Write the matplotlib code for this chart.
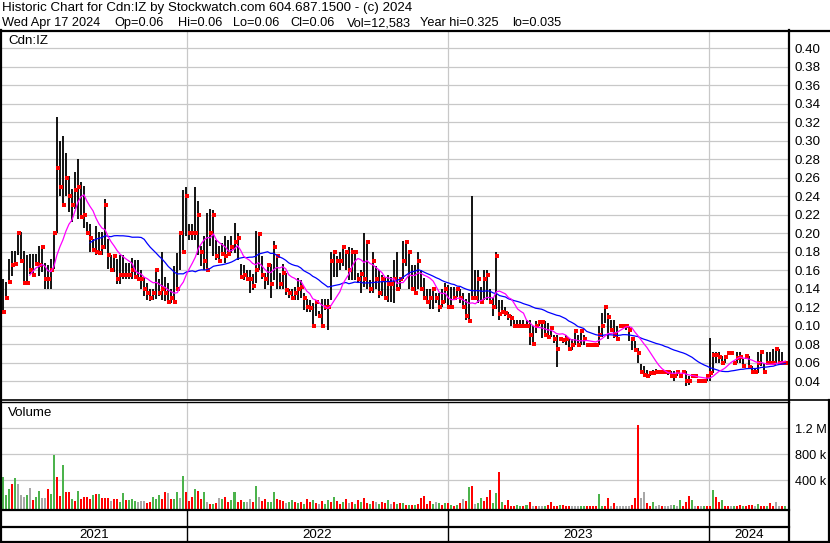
import numpy as np
import pandas as pd
import matplotlib
matplotlib.use('Agg')
import matplotlib.pyplot as plt

# ---------------- data (3-trading-day buckets, prices in cents) ----------------
hi_c = [15, 14.7, 17.2, 18.1, 18.1, 20.1, 20.1, 18.1, 17.6, 17.7, 17.7, 17.7, 18.6, 18.6, 16.8, 16.5, 17.2, 20.1, 32.5, 30,
        30.5, 28.7, 26.2, 24.8, 26.6, 28, 25.5, 25.1, 21.2, 21, 19.4, 20.8, 20.1, 20.1, 23.7, 19.4, 17.6, 17.6, 17.2, 17.6,
        17.6, 16.8, 16.8,
        17.3, 17.1, 17.1, 16, 15.3, 14.6, 14, 14, 16, 15, 18, 15.3, 14.6, 14, 16.4, 17.8, 20.2, 24.7, 25, 21,
        21, 25, 23.5, 18.6, 19.7, 22.2, 22.6, 22.5, 19.3, 18.6, 18.9, 19.7, 19.3, 19.7, 21.1, 20, 16.7, 16.5, 16, 16,
        15.6, 20.2, 20, 17.5,
        15.7, 16.7, 16.6, 19.1, 17.5, 15.7, 16.6, 15.7, 14, 13.9, 14.2, 15.1, 14.9, 13.5, 12.9, 12.8, 12.4, 12.6, 11.6, 12.9,
        12.9, 12.9, 18, 18, 17.5, 18, 18.5, 18, 18.5, 18.4, 18, 15.7, 16, 20, 19, 14.9, 18, 16.4, 16, 15.5,
        15.3, 15.5, 15.3,
        17.1, 18, 15.3, 19.1, 19.1, 18, 16.5, 16.5, 18, 16, 15.1, 13.9, 13.9, 13.9, 13.5, 13.5, 13.9, 14.6, 14.4, 14.2,
        14.2, 14.1, 13.9, 13.5, 12.9, 13.5, 24, 16, 16, 14.2, 16, 16, 13.9, 13, 18, 12.8, 12.8, 12, 11.5, 11.1,
        10.6, 10.6, 10.6,
        10.6, 10.6, 10.6, 9.9, 10.5, 10.5, 10.5, 10.5, 10.3, 9.9, 9, 9, 8.6, 8.6, 9, 8.5, 8.5, 9.5, 9, 9.5,
        9, 8.1, 8.1, 8.1, 8.1, 9.9, 11.4, 12.1, 11.4, 10.6, 10.6, 9.9, 10, 10, 10, 9.9, 8.7, 8.3, 7.6, 5.8,
        5.6, 5.2, 4.9, 5.2,
        5.3, 5.1, 5.1, 5.1, 5.1, 5.1, 5.1, 5.1, 4.7, 5.1, 5.1, 4.5, 4.7, 4.7, 4.2, 4.2, 4.2, 4.5, 8.6, 7.1,
        7.1, 7.1, 6.7, 6.7, 7.2, 7.2, 6.2, 7.1, 7.1, 6.4, 6.7, 6.7, 5.6, 5.3, 7.1, 7.1, 6, 7.1, 7.1, 7.5,
        7.5, 7.5, 7.1, 6.2]

lo_c = [11.4, 13, 14.7, 15.4, 16.5, 17.6, 16.8, 14.5, 14.5, 15.6, 15.5, 16.5, 15.4, 15.8, 14, 14, 14, 16.1, 20, 24,
        23, 24, 22.3, 21.2, 22.6, 21.5, 21.7, 20.5, 20, 18, 18, 17.6, 17.6, 17.6, 18.3, 16.1, 15.8, 15.8, 14.5, 14.5,
        15, 15, 15,
        15, 15, 15, 13.9, 13.2, 12.8, 12.6, 12.8, 12.9, 13.2, 12.8, 12.6, 12.5, 12.4, 12.4, 13.8, 16, 17.8, 19.7, 19.3,
        19.3, 19.3, 17.6, 16.4, 16, 16, 18.6, 17.5, 17.1, 16.9, 17.5, 16.8, 17.5, 17.8, 17.8, 17.1, 15.1, 14.9, 14.9, 13.5,
        13.8, 14.6, 16, 15,
        13.9, 14.4, 13, 14.9, 13.9, 13.9, 13.9, 13.3, 13, 13, 12.8, 12.8, 13, 11.7, 11.5, 11.5, 9.9, 11, 11, 9.9,
        11.7, 9.5, 12.8, 15.3, 15.3, 16, 16.4, 16, 14.9, 14.9, 14.9, 14.6, 13.5, 14.2, 13.9, 13.5, 13.5, 13.9, 13, 13.2,
        13, 12.5, 12.5,
        12.4, 13.9, 13.9, 15, 16.4, 13.9, 13.9, 13.5, 13.9, 13.9, 12.8, 12.4, 11.8, 11.8, 12.4, 11.5, 12, 12.4, 11.8, 11.8,
        12.8, 13.1, 12.4, 11.8, 10.6, 10.4, 12.8, 12.9, 12.4, 12.4, 12.8, 12.8, 12.4, 11, 11.8, 10.6, 11.3, 11, 10.6, 9.9,
        9.9, 9.9, 9.9,
        9.7, 9.7, 7.9, 7.9, 9.2, 9.9, 8.7, 8.8, 8.8, 8.8, 8.1, 5.5, 8.3, 8.1, 7.9, 7.4, 7.4, 7.9, 7.9, 7.9,
        7.9, 7.9, 7.9, 7.9, 7.9, 7.9, 8.8, 10.3, 8.5, 9.4, 8.7, 8.5, 9.7, 9.7, 9.5, 8.3, 7.4, 7.4, 6, 5,
        4.5, 4.5, 4.5, 4.8,
        4.9, 4.9, 4.9, 4.9, 4.7, 4.5, 4, 4.5, 4.5, 4.9, 3.5, 3.6, 4.4, 4.4, 3.9, 3.9, 3.9, 4, 4, 4.9,
        6, 6, 6, 6, 6.9, 6.9, 5.9, 6, 6, 5.5, 6.4, 5.3, 4.9, 4.9, 4.9, 5.6, 4.9, 6, 6, 6,
        6, 6, 6, 5.9]

cl_c = [11.5, 13, 14.7, 16.5, 16.6, 20, 17, 14.6, 14.6, 16, 15.5, 16.6, 16.5, 18.5, 15, 15, 16, 20, 27, 25,
        23, 26, 24, 23, 24.6, 25, 21.7, 22, 20, 19.5, 18.2, 18, 17.8, 18.5, 23, 17.6, 16, 17.5, 15, 15.5,
        15.5, 15.5, 15.5,
        16, 15.2, 15, 15, 14, 13.5, 13, 13.5, 16, 13.5, 14, 13.5, 12.5, 13, 12.5, 14, 20, 18, 24, 20,
        20, 20, 22, 18, 17, 16, 20, 22, 17.5, 17, 17.7, 17.5, 17.7, 18.5, 19, 19.5, 15.2, 15.5, 15, 15,
        14.3, 16, 19.9, 15.5,
        15, 16.5, 14.5, 18.5, 17.5, 14.5, 15.7, 13.8, 13.5, 13, 13.5, 14, 14.2, 13, 12, 11.9, 10, 12.5, 11, 10,
        12, 12, 17, 18, 17, 17, 18.5, 18, 16, 18, 18, 15, 15.6, 15, 19, 14, 17, 15, 13.5, 15,
        13, 14.5, 14.5,
        15, 13.9, 15, 17, 19, 18, 14, 13.5, 17, 14, 13, 12.5, 13, 14, 13, 12, 12.5, 14, 12, 12,
        13, 14, 13, 12, 11, 10.5, 13, 13, 15, 12.5, 15, 15.5, 12.5, 12, 17.5, 11.3, 11.5, 11.4, 11, 10.8,
        10, 10, 10,
        9.9, 9.9, 9, 8, 9.9, 10.4, 10.4, 9, 8.8, 9.7, 8.5, 7.5, 8.5, 8.4, 8.5, 7.5, 7.9, 9.4, 7.9, 9.4,
        8.5, 7.9, 7.9, 7.9, 7.9, 9, 9.9, 12, 10.9, 9.5, 9, 8.5, 9.9, 9.9, 9.9, 9.5, 8.5, 7.4, 7, 5,
        4.7, 4.5, 4.9, 4.9,
        5, 5, 5, 5, 5, 4.5, 4.5, 5, 4.5, 5, 4, 4, 4.5, 4.5, 4, 4, 4, 4.5, 4.9, 6.8,
        6.8, 6.6, 6, 6.6, 7, 7, 6, 6.5, 6.6, 5.6, 6.7, 5.5, 5, 5, 6, 7.1, 5, 6, 6, 6,
        7.5, 6, 6, 6]

# volume in thousands of shares (largest day of each bucket)
vol_k = [450, 170, 270, 350, 435, 350, 170, 145, 170, 280,
         90, 145, 235, 130, 130, 270, 195, 795, 450, 160,
         630, 220, 220, 120, 80, 235, 120, 145, 145, 110,
         180, 190, 185, 130, 130, 130, 80, 110, 110, 70,
         210, 90, 90, 110, 80, 60, 80, 80, 50, 60,
         145, 120, 170, 110, 220, 210, 120, 115, 220, 130,
         465, 220, 80, 145, 260, 235, 110, 220, 60, 40,
         40, 50, 130, 120, 145, 70, 100, 220, 60, 90,
         60, 70, 120, 60, 310, 145, 80, 110, 60, 70,
         220, 110, 90, 80, 50, 60, 90, 60, 50,
         70, 40, 120, 60, 90, 50, 30, 80, 40, 100,
         60, 150, 80, 40, 60, 110, 50, 70, 40, 90,
         60, 130, 50, 40, 80, 60, 30, 70, 50, 90,
         40, 60, 30, 50,
         45, 20, 20, 15, 20, 30, 123, 160, 35, 80,
         35, 60, 45, 20, 55, 45, 15, 10, 20, 45,
         110, 80, 300, 320, 30, 45, 130, 80, 150, 250,
         45, 200, 530, 70, 20, 90, 10, 10, 15, 10,
         10, 15, 70, 5, 10, 5, 5, 10, 15, 70,
         10, 10, 15, 20, 10, 5, 10, 5, 5, 10,
         5, 10, 5, 5, 5, 185, 10, 10, 125, 5,
         45, 5, 5, 5, 5, 5, 20, 125, 1250, 125,
         215, 45, 5, 70, 5, 20, 5, 10, 5, 20,
         20, 10, 97, 10, 70, 160, 97, 5, 5, 5,
         5, 5, 10, 250, 140, 70, 90, 5, 10, 10,
         5, 5, 15, 10, 10, 20, 20, 5, 35, 5,
         10, 10, 45, 5, 65, 5, 10, 5]

# g = up day, r = down day, k = unchanged
vol_col = ("gggrgkkkgk" "rggkkrggrr" "grrgrgrrrr" "grgrrrkrrg" "grgggkkkrr"
           "gggrrkrggk" "grrrgrrgkr" "grkgrrggrr" "gkkrgkrrgg" "grrrkggrg"
           "rgrrgrkrgg" "rgrrgrkrgr" "grrgrkgrrg" "krgr"
           "grgrgrrrrr" "gkgrgrgrgr" "krgrkggrrr" "ggrgrrrrgg" "rgrkrkkgrr"
           "rrgrrrkkkg" "grrrrggrrk" "rkkkkkrrrk" "krrgkkrkkk" "gkgrrrgkrk"
           "grrgrrgrrk" "grrgrrrkgr" "rgrrkkrg")

year_labels = ['2021', '2022', '2023', '2024']
price_ticks = [0.04, 0.06, 0.08, 0.10, 0.12, 0.14, 0.16, 0.18, 0.20, 0.22,
               0.24, 0.26, 0.28, 0.30, 0.32, 0.34, 0.36, 0.38, 0.40]
vol_ticks = [400e3, 800e3, 1.2e6]
vol_tick_labels = ['400 k', '800 k', '1.2 M']
title1 = 'Historic Chart for Cdn:IZ by Stockwatch.com 604.687.1500 - (c) 2024'
title2_items = ['Wed Apr 17 2024', 'Op=0.06', 'Hi=0.06', 'Lo=0.06', 'Cl=0.06',
                'Vol=12,583', 'Year hi=0.325', 'lo=0.035']
title2_px = [2, 114, 178, 233, 290, 347, 420, 512]
symbol = 'Cdn:IZ'

# ---------------- derived ----------------
hi = np.array(hi_c) / 100.0
lo = np.array(lo_c) / 100.0
cl = np.array(cl_c) / 100.0
vol = np.array(vol_k) * 1000.0
n = len(hi)
days = pd.bdate_range(end='2024-04-17', periods=3 * n)
x = np.arange(n) * 3 + 1
bounds = [np.argmax(days.year == y) - 0.5 for y in (2022, 2023, 2024)]
ma_short = pd.Series(cl).rolling(10).mean()
ma_long = pd.Series(cl).rolling(30).mean()
cmap = {'g': '#4cb34c', 'r': '#ff0000', 'k': '#a8a8a8'}
colors = [cmap[c] for c in vol_col]

# ---------------- figure ----------------
plt.rcParams['font.family'] = ['Liberation Sans', 'DejaVu Sans']
W, H = 830, 543
fig = plt.figure(figsize=(W / 100, H / 100), dpi=100)
fig.patch.set_facecolor('white')
FS = 9.6
FS2 = 9.2
GRID = '#c8c8c8'
XL = (-0.7, 784.6)


def ax_px(x0, y0, x1, y1):
    return fig.add_axes([x0 / W, 1 - y1 / H, (x1 - x0) / W, (y1 - y0) / H])


# price panel
ax = ax_px(1, 31, 789, 400)
ax.set_xlim(*XL)
ax.set_ylim(0.0195, 0.4184)
for p in price_ticks:
    ax.axhline(p, color=GRID, lw=0.9, zorder=0)
for b in bounds:
    ax.axvline(b, color=GRID, lw=0.9, zorder=0)
ax.vlines(x, lo, hi, color='black', lw=1.3, zorder=2)
ax.plot(x + 1.0, cl, 's', color='red', ms=2.4, mew=0, zorder=3)
ax.plot(x, ma_long, color='#0000ff', lw=0.9, zorder=4)
ax.plot(x, ma_short, color='#ff00ff', lw=0.9, zorder=4)
ax.set_xticks([])
ax.yaxis.tick_right()
ax.set_yticks(price_ticks)
ax.set_yticklabels(['%.2f' % p for p in price_ticks], fontsize=FS)
ax.tick_params(axis='y', length=0, pad=4)
for s in ax.spines.values():
    s.set_visible(False)
ax.text(7 / 788, 1 - 10 / 369, symbol, transform=ax.transAxes, fontsize=FS,
        va='center', ha='left')

# volume panel
vbot = -41.5e3
axv = ax_px(1, 402, 789, 509)
axv.set_xlim(*XL)
axv.set_ylim(vbot, 1.605e6)
for v in vol_ticks:
    axv.axhline(v, color=GRID, lw=0.9, zorder=0)
for b in bounds:
    axv.axvline(b, color=GRID, lw=0.9, zorder=0)
axv.bar(x, vol - vbot, bottom=vbot, width=2.0, color=colors, linewidth=0, zorder=2)
axv.set_xticks([])
axv.yaxis.tick_right()
axv.set_yticks(vol_ticks)
axv.set_yticklabels(vol_tick_labels, fontsize=FS2)
axv.tick_params(axis='y', length=0, pad=4)
for s in axv.spines.values():
    s.set_visible(False)
axv.text(7 / 788, 1 - 11 / 107, 'Volume', transform=axv.transAxes, fontsize=FS,
         va='center', ha='left')

# date strip
axs = ax_px(1, 510, 789, 542)
axs.set_xlim(*XL)
axs.set_ylim(0, 1)
axs.axis('off')
for b in bounds:
    axs.axvline(b, color='black', lw=1.0)
edges = [XL[0]] + bounds + [XL[1]]
for i, lab in enumerate(year_labels):
    axs.text((edges[i] + edges[i + 1]) / 2, 0.22, lab, ha='center', va='center',
             fontsize=FS)

# frame lines (pixel overlay)
ov = fig.add_axes([0, 0, 1, 1], zorder=10)
ov.set_xlim(0, W)
ov.set_ylim(H, 0)
ov.axis('off')
ov.patch.set_alpha(0)
K = 'black'
ov.plot([0, 830], [30.5, 30.5], color=K, lw=1.6)
ov.plot([0.8, 0.8], [30, 542], color=K, lw=1.6)
ov.plot([789, 789], [30, 542], color=K, lw=1.6)
ov.plot([0, 830], [400.3, 400.3], color=K, lw=1.2)
ov.plot([0, 789], [402.2, 402.2], color=K, lw=1.0)
ov.plot([0, 789], [510, 510], color=K, lw=1.6)
ov.plot([0, 789], [527, 527], color=K, lw=1.6)
ov.plot([0, 830], [541.5, 541.5], color=K, lw=1.6)
ov.plot([828.5, 828.5], [400, 542], color=K, lw=1.6)

fig.text(2 / W, 1 - 8 / H, title1, fontsize=FS, va='center', ha='left')
for item, px in zip(title2_items, title2_px):
    fig.text(px / W, 1 - 23 / H, item, fontsize=FS2, va='center', ha='left')

fig.savefig('out.png', dpi=100, facecolor='white')
